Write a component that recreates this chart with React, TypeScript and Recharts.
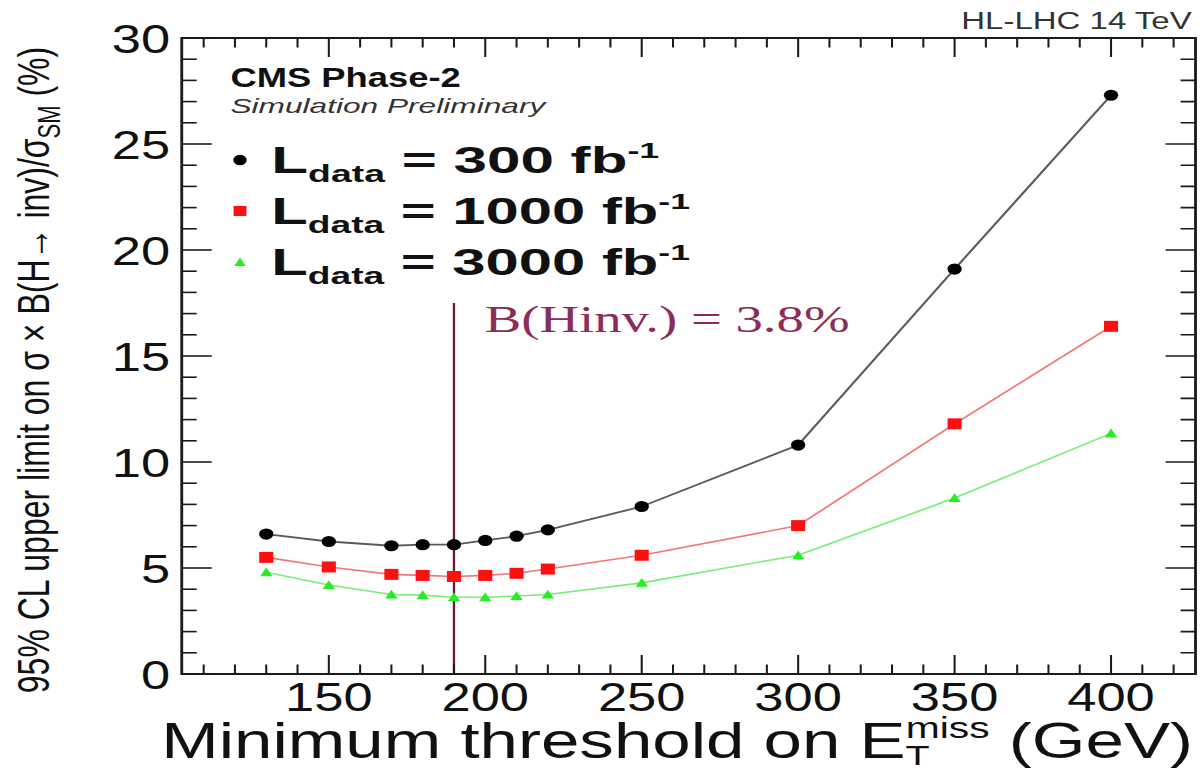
import React from 'react';
import { LineChart, Line, XAxis, YAxis, ReferenceLine, ReferenceArea } from 'recharts';

// Minimum E_T^miss thresholds (GeV)
const thresholds = [130, 150, 170, 180, 190, 200, 210, 220, 250, 300, 350, 400];
// 95% CL upper limits (%) for each integrated luminosity
const limit300 = [6.6, 6.25, 6.05, 6.1, 6.1, 6.3, 6.5, 6.8, 7.9, 10.8, 19.1, 27.3];
const limit1000 = [5.5, 5.05, 4.7, 4.65, 4.6, 4.65, 4.75, 4.95, 5.6, 7.0, 11.8, 16.4];
const limit3000 = [4.8, 4.2, 3.75, 3.72, 3.62, 3.62, 3.68, 3.75, 4.3, 5.6, 8.3, 11.35];

const xTicks = [110, 120, 130, 140, 150, 160, 170, 180, 190, 200, 210, 220, 230, 240, 250, 260, 270, 280, 290, 300, 310, 320, 330, 340, 350, 360, 370, 380, 390, 400, 410, 420];
const xLabels = [150, 200, 250, 300, 350, 400];
const yTicks = [0, 1, 2, 3, 4, 5, 6, 7, 8, 9, 10, 11, 12, 13, 14, 15, 16, 17, 18, 19, 20, 21, 22, 23, 24, 25, 26, 27, 28, 29, 30];
const yLabels = [0, 5, 10, 15, 20, 25, 30];

// Chosen working point and its branching-ratio statement
const workingPoint = 190;
const workingPointLineTop = 17.5;
const brText = 'B(Hinv.) = 3.8%';

const X_DOMAIN: [number, number] = [103, 427];
const Y_DOMAIN: [number, number] = [0, 30];

const rows = thresholds.map((t, i) => ({
  met: t,
  l300: limit300[i],
  l1000: limit1000[i],
  l3000: limit3000[i],
}));

const CHART_W = 940;
const CHART_H = 775;
const STRETCH = 1.28;
const MARGIN = { top: 38, right: 6, bottom: 61, left: 102 };
const X_AXIS_H = 40;
const Y_AXIS_W = 40;
const PLOT_W = CHART_W - MARGIN.left - MARGIN.right - Y_AXIS_W;
const PLOT_H = CHART_H - MARGIN.top - MARGIN.bottom - X_AXIS_H;

const SANS = "'Liberation Sans', Arial, Helvetica, sans-serif";
const SERIF = "'Liberation Serif', 'Times New Roman', serif";
const AXIS_COLOR = '#1a1a1a';

function XTick(props: any) {
  const { x, y, payload } = props;
  const v = payload.value;
  const major = xLabels.includes(v);
  const len = major ? 19 : 9.5;
  return (
    <g>
      <line x1={x} x2={x} y1={y} y2={y - len} stroke={AXIS_COLOR} strokeWidth={1.6} />
      <line x1={x} x2={x} y1={y - PLOT_H} y2={y - PLOT_H + len} stroke={AXIS_COLOR} strokeWidth={1.6} />
      {major && (
        <text x={x} y={y + 37} textAnchor="middle" fontSize={41} fontFamily={SANS} fill="#111">
          {v}
        </text>
      )}
    </g>
  );
}

function YTick(props: any) {
  const { x, y, payload } = props;
  const v = payload.value;
  const major = yLabels.includes(v);
  const len = major ? 23.4 : 11.7;
  return (
    <g>
      <line x1={x} x2={x + len} y1={y} y2={y} stroke={AXIS_COLOR} strokeWidth={1.6} />
      <line x1={x + PLOT_W} x2={x + PLOT_W - len} y1={y} y2={y} stroke={AXIS_COLOR} strokeWidth={1.6} />
      {major && (
        <text x={x - 9} y={y} dy="0.36em" textAnchor="end" fontSize={41} fontFamily={SANS} fill="#111">
          {v}
        </text>
      )}
    </g>
  );
}

function CircleDot(props: any) {
  const { cx, cy, index } = props;
  return <circle key={`c${index}`} cx={cx} cy={cy} r={5.6} fill="#000" />;
}

function SquareDot(props: any) {
  const { cx, cy, index } = props;
  return <rect key={`s${index}`} x={cx - 5.5} y={cy - 5.5} width={11} height={11} fill="#ff1010" />;
}

function TriangleDot(props: any) {
  const { cx, cy, index } = props;
  return (
    <polygon
      key={`t${index}`}
      points={`${cx - 4.8},${cy + 4} ${cx + 4.8},${cy + 4} ${cx},${cy - 4.8}`}
      fill="#22ee22"
    />
  );
}

function BrLabel(props: any) {
  const vb = props.viewBox || {};
  const top = Math.min(vb.y, vb.y + (vb.height || 0));
  return (
    <text
      x={vb.x + 24}
      y={top + 29}
      fontSize={38}
      fontFamily={SERIF}
      fill="#8c2c5c"
      textLength={285}
      lengthAdjust="spacingAndGlyphs"
    >
      {brText}
    </text>
  );
}

const legendEntries = [
  { lumi: '300', marker: 'circle', width: 303 },
  { lumi: '1000', marker: 'square', width: 327 },
  { lumi: '3000', marker: 'triangle', width: 327 },
];

function Overlay() {
  return (
    <svg
      width={CHART_W}
      height={CHART_H}
      style={{ position: 'absolute', left: 0, top: 0, pointerEvents: 'none' }}
    >
      <text
        x={931}
        y={29}
        textAnchor="end"
        fontSize={23}
        fontFamily={SANS}
        fill="#333"
        textLength={180}
        lengthAdjust="spacingAndGlyphs"
      >
        HL-LHC 14 TeV
      </text>
      <text
        x={180}
        y={87}
        fontSize={27}
        fontWeight="bold"
        fontFamily={SANS}
        fill="#111"
        textLength={180}
        lengthAdjust="spacingAndGlyphs"
      >
        CMS Phase-2
      </text>
      <text
        x={180}
        y={113}
        fontSize={21}
        fontStyle="italic"
        fontFamily={SANS}
        fill="#333"
        textLength={246}
        lengthAdjust="spacingAndGlyphs"
      >
        Simulation Preliminary
      </text>

      {legendEntries.map((e, i) => {
        const cy = 160 + i * 51;
        const mx = 187.5;
        return (
          <g key={e.lumi}>
            {e.marker === 'circle' && <circle cx={mx} cy={cy} r={5.2} fill="#000" />}
            {e.marker === 'square' && <rect x={mx - 5} y={cy - 5} width={10} height={10} fill="#ff1010" />}
            {e.marker === 'triangle' && (
              <polygon points={`${mx - 4.5},${cy + 4} ${mx + 4.5},${cy + 4} ${mx},${cy - 4.5}`} fill="#22ee22" />
            )}
            <text
              x={212}
              y={cy + 13}
              fontSize={37}
              fontWeight="bold"
              fontFamily={SANS}
              fill="#111"
              textLength={e.width}
              lengthAdjust="spacingAndGlyphs"
            >
              L
              <tspan fontSize={23} dy={9}>data</tspan>
              <tspan dy={-9}>{` = ${e.lumi} fb`}</tspan>
              <tspan fontSize={22} dy={-15}>-1</tspan>
            </text>
          </g>
        );
      })}

      <text
        transform="translate(38, 370) rotate(-90) scale(1, 1.1)"
        textAnchor="middle"
        fontSize={32}
        fontFamily={SANS}
        fill="#111"
      >
        95% CL upper limit on σ × B(H→ inv)/σ
        <tspan fontSize={22} dy={8}>SM</tspan>
        <tspan dy={-8}> (%)</tspan>
      </text>

      <text
        x={126}
        y={758}
        fontSize={49}
        fontFamily={SANS}
        fill="#111"
        textLength={806}
        lengthAdjust="spacingAndGlyphs"
      >
        Minimum threshold on E
        <tspan fontSize={28} dy={7}>T</tspan>
        <tspan fontSize={29} dx={-17} dy={-27}>miss</tspan>
        <tspan dy={20}> (GeV)</tspan>
      </text>
    </svg>
  );
}

export default function App() {
  return (
    <div
      style={{
        position: 'absolute',
        left: 0,
        top: 0,
        width: CHART_W,
        height: CHART_H,
        background: '#fff',
        transform: `scaleX(${STRETCH})`,
        transformOrigin: '0 0',
      }}
    >
      <LineChart width={CHART_W} height={CHART_H} data={rows} margin={MARGIN}>
        <XAxis
          dataKey="met"
          type="number"
          domain={X_DOMAIN}
          ticks={xTicks}
          interval={0}
          height={X_AXIS_H}
          tick={<XTick />}
          tickLine={false}
          axisLine={false}
          tickSize={0}
          tickMargin={0}
        />
        <YAxis
          type="number"
          domain={Y_DOMAIN}
          ticks={yTicks}
          interval={0}
          width={Y_AXIS_W}
          tick={<YTick />}
          tickLine={false}
          axisLine={false}
          tickSize={0}
          tickMargin={0}
        />
        <ReferenceArea
          x1={X_DOMAIN[0]}
          x2={X_DOMAIN[1]}
          y1={Y_DOMAIN[0]}
          y2={Y_DOMAIN[1]}
          fill="none"
          fillOpacity={0}
          stroke="#1a1a1a"
          strokeWidth={2.2}
        />
        <ReferenceLine
          segment={[
            { x: workingPoint, y: 0 },
            { x: workingPoint, y: workingPointLineTop },
          ]}
          stroke="#6e1838"
          strokeWidth={1.8}
          label={<BrLabel />}
        />
        <Line
          dataKey="l300"
          stroke="#5a5a5a"
          strokeWidth={1.8}
          dot={CircleDot}
          activeDot={false}
          isAnimationActive={false}
        />
        <Line
          dataKey="l1000"
          stroke="#f07878"
          strokeWidth={1.6}
          dot={SquareDot}
          activeDot={false}
          isAnimationActive={false}
        />
        <Line
          dataKey="l3000"
          stroke="#78ee78"
          strokeWidth={1.6}
          dot={TriangleDot}
          activeDot={false}
          isAnimationActive={false}
        />
      </LineChart>
      <Overlay />
    </div>
  );
}
